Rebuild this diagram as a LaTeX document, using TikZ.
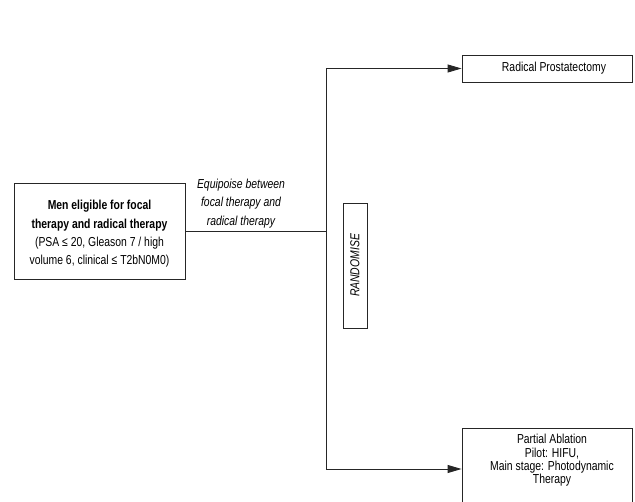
\documentclass[tikz,border=0pt]{standalone}
\usepackage{fontspec}
\setmainfont{Liberation Sans}[FakeStretch=0.8]
\usetikzlibrary{arrows.meta}
\tikzset{
  box/.style={draw=black!85, line width=0.9pt, fill=white, inner sep=2pt, align=center},
  txt/.style={inner sep=0pt, align=center},
  conn/.style={draw=black!85, line width=0.9pt},
  arr/.style={conn, -{Triangle[length=14pt,width=8pt]}},
}
\begin{document}
\begin{tikzpicture}[x=1pt,y=-1pt, font=\fontsize{13}{15}\selectfont]
\useasboundingbox (0,0) rectangle (635,502);
\node[box, minimum width=171pt, minimum height=96pt] (men) at (99.5,231) {};
\node[txt, font=\fontsize{13}{18.3}\selectfont] (ment) at (99.5,234)
  {\textbf{Men eligible for focal}\\\textbf{therapy and radical therapy}\\(PSA ≤ 20, Gleason 7 / high\\volume 6, clinical ≤ T2bN0M0)};
\node[box, minimum width=170pt, minimum height=27pt] (rp) at (547,68.5) {};
\node[txt] (rpt) at (554,68.5) {Radical Prostatectomy};
\node[box, minimum width=170pt, minimum height=76pt, anchor=north] (pa) at (547,428) {};
\node[txt, font=\fontsize{13}{13.3}\selectfont] (pat) at (552,460.5)
  {Partial Ablation\\Pilot: HIFU,\\Main stage: Photodynamic\\Therapy};
\node[box, minimum width=24pt, minimum height=125pt] (rand) at (355,265.5) {};
\node[rotate=90, font=\fontsize{13}{15}\selectfont\itshape] (randt) at (rand.center) {RANDOMISE};
\node[txt, font=\fontsize{13}{18.7}\selectfont\itshape] (eq) at (241,203.5) {Equipoise between\\focal therapy and\\radical therapy};
\coordinate (j) at (326,231);
\coordinate (t) at (326,68.5);
\coordinate (b) at (326,469);
\draw[conn] (men.east |- j) -- (j);
\draw[conn] (t) -- (b);
\draw[arr] (t) -- (rp.west);
\draw[arr] (b) -- (pa.west |- b);
\end{tikzpicture}
\end{document}
